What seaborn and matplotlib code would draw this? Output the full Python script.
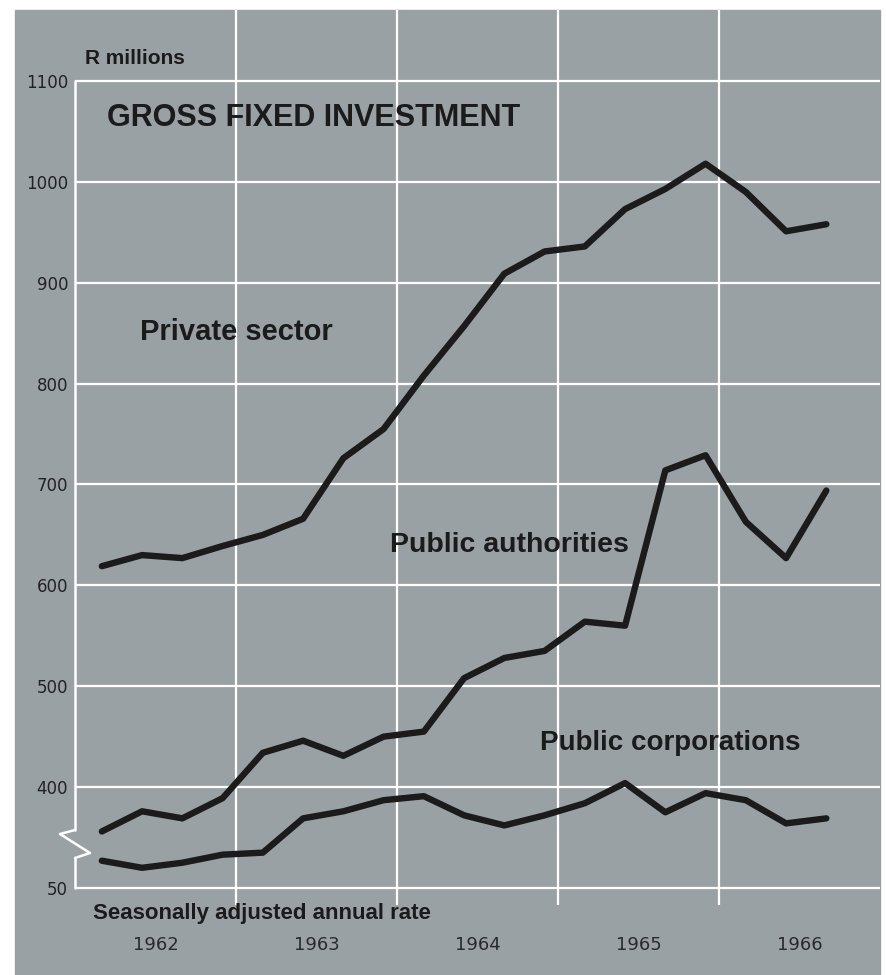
import matplotlib
matplotlib.use('Agg')
import matplotlib.pyplot as plt
import matplotlib.patches as mpatches
import matplotlib.lines as mlines
from matplotlib import font_manager
import pandas as pd
import seaborn as sns

# quarterly figures (values below 400 sit on the broken part of the scale)
QUARTERS = ['1962Q1', '1962Q2', '1962Q3', '1962Q4',
            '1963Q1', '1963Q2', '1963Q3', '1963Q4',
            '1964Q1', '1964Q2', '1964Q3', '1964Q4',
            '1965Q1', '1965Q2', '1965Q3', '1965Q4',
            '1966Q1', '1966Q2', '1966Q3']
PRIVATE_SECTOR = [619, 630, 627, 639, 650, 666, 726, 755, 808, 857,
                  909, 931, 936, 973, 993, 1018, 990, 951, 958]
PUBLIC_AUTHORITIES = [356, 376, 369, 389, 434, 446, 431, 450, 455, 508,
                      528, 535, 564, 560, 714, 729, 663, 627, 694]
PUBLIC_CORPORATIONS = [327, 320, 325, 333, 335, 369, 376, 387, 391, 372,
                       362, 372, 384, 404, 375, 394, 387, 364, 369]

YEARS = [1962, 1963, 1964, 1965, 1966]
YTICKS = [300, 400, 500, 600, 700, 800, 900, 1000, 1100]
YLABELS = ['50', '400', '500', '600', '700', '800', '900', '1000', '1100']

BG = '#9aa1a5'
INK = '#1b1b1b'
W, H = 887, 975


def px(x, y):
    # pixel position -> figure fraction
    return x / W, 1 - y / H


def quarter_pos(q):
    year, qn = int(q[:4]), int(q[-1])
    return year + (qn - 1) / 4 + 1 / 6


rows = []
for name, vals in [('Private sector', PRIVATE_SECTOR),
                   ('Public authorities', PUBLIC_AUTHORITIES),
                   ('Public corporations', PUBLIC_CORPORATIONS)]:
    for q, v in zip(QUARTERS, vals):
        rows.append({'x': quarter_pos(q), 'value': v, 'series': name})
df = pd.DataFrame(rows)

sns.set_theme(style='darkgrid', rc={'axes.facecolor': BG, 'grid.color': 'white',
                                    'grid.linewidth': 1.6})
names = {f.name for f in font_manager.fontManager.ttflist}
NARROW = 'Liberation Sans Narrow' if 'Liberation Sans Narrow' in names else 'DejaVu Sans'
plt.rcParams['font.family'] = ['Liberation Sans', 'DejaVu Sans']

fig = plt.figure(figsize=(W / 100, H / 100), dpi=100)
fig.patch.set_facecolor('white')
fig.patches.append(mpatches.Rectangle((15 / W, 0), 865 / W, 965 / H,
                                      transform=fig.transFigure, color=BG, zorder=-5))

ax = fig.add_axes([75 / W, 70 / H, 805 / W, 895 / H])
ax.set_facecolor(BG)

sns.lineplot(data=df, x='x', y='value', hue='series', palette=[INK] * 3,
             linewidth=4.6, legend=False, sort=False, ax=ax, zorder=3)
for ln in ax.lines:
    ln.set_solid_joinstyle('round')

ax.set_xlim(1962, 1967)
ax.set_ylim(283.1, 1170.4)

ax.set_xticks(YEARS[1:])
ax.set_xticklabels([])
ax.set_xticks([y + 0.5 for y in YEARS], minor=True)
ax.set_xticklabels([str(y) for y in YEARS], minor=True)
ax.set_yticks(YTICKS)
ax.set_yticklabels(YLABELS)
ax.grid(which='major', color='white', linewidth=1.6)
ax.grid(which='minor', visible=False)
ax.tick_params(which='both', length=0)
ax.tick_params(axis='x', which='minor', pad=22, labelsize=13, labelcolor='#2a2a2a')
ax.tick_params(axis='y', pad=5, labelsize=12, labelcolor='#222222')
for lab in ax.get_xticklabels(minor=True) + ax.get_yticklabels():
    lab.set_family(NARROW)
ax.set_xlabel('')
ax.set_ylabel('')
for s in ax.spines.values():
    s.set_visible(False)

# left axis with the scale break
ax.plot([1962, 1962], [357.5, 1100], color='white', lw=1.8, clip_on=False, zorder=2)
ax.plot([1962, 1962], [300, 329.7], color='white', lw=1.8, clip_on=False, zorder=2)
zz = [px(75, 830), px(60, 834), px(90, 853), px(75, 858)]
fig.lines.append(mlines.Line2D([p[0] for p in zz], [p[1] for p in zz],
                               transform=fig.transFigure, color='white', lw=1.8, zorder=5))

fig.text(*px(85, 58), 'R millions', fontsize=15, fontweight='bold', color=INK, va='center')
fig.text(*px(107, 118), 'GROSS FIXED INVESTMENT', fontsize=22, fontweight='bold',
         color=INK, va='center')
fig.text(*px(140, 332), 'Private sector', fontsize=21, fontweight='bold', color=INK, va='center')
fig.text(*px(390, 545), 'Public authorities', fontsize=20.5, fontweight='bold', color=INK,
         va='center')
fig.text(*px(540, 743), 'Public corporations', fontsize=20, fontweight='bold', color=INK,
         va='center')
fig.text(*px(93, 913), 'Seasonally adjusted annual rate', fontsize=16, fontweight='bold',
         color=INK, va='center')

fig.savefig('out.png', dpi=100)
